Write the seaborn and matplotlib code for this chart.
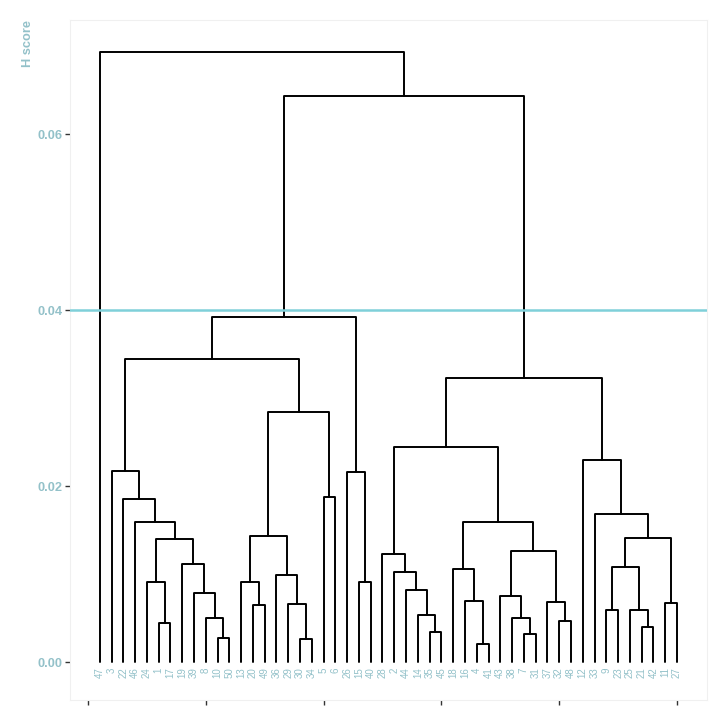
import numpy as np
import pandas as pd
import matplotlib
matplotlib.use("Agg")
import matplotlib.pyplot as plt
import seaborn as sns

# leaf order on the x axis (left to right)
leaf_order = [47, 3, 22, 46, 24, 1, 17, 19, 39, 8, 10, 50, 13, 20, 49, 36, 29, 30, 34,
              5, 6, 26, 15, 40, 28, 2, 44, 14, 35, 45, 18, 16, 4, 41, 43, 38, 7, 31,
              37, 32, 48, 12, 33, 9, 23, 25, 21, 42, 11, 27]

# merges: ints are leaf labels, "mN" is the N-th merge below
merge_left = [10, 8, 39, 19, 1, 24, "m5", 46, 22, 3,
              20, 13, 30, 29, 36, "m11", 5, "m15", "m9", 15, 26, "m18",
              35, 14, 44, 2, 28,
              4, 16, 18, 7, 38, 43, 32, 37, "m32", "m29", "m26",
              9, 21, 25, "m38", 11, "m41", 33, 12, "m37", "m21", 47]
merge_right = [50, "m0", "m1", "m2", 17, "m4", "m3", "m6", "m7", "m8",
               49, "m10", 34, "m12", "m13", "m14", 6, "m16", "m17", 40, "m19", "m20",
               45, "m22", "m23", "m24", "m25",
               41, "m27", "m28", 31, "m30", "m31", 48, "m33", "m34", "m35", "m36",
               23, 42, "m39", "m40", 27, "m42", "m43", "m44", "m45", "m46", "m47"]
merge_height = [0.00273, 0.00496, 0.00784, 0.01114, 0.00443, 0.00905, 0.01398, 0.01587, 0.01856, 0.02167,
                0.00652, 0.00905, 0.00261, 0.00663, 0.00989, 0.01436, 0.01879, 0.02841, 0.0344, 0.00905,
                0.02163, 0.03924,
                0.00345, 0.00530, 0.00818, 0.01027, 0.01223,
                0.00205, 0.00693, 0.01053, 0.00314, 0.00500, 0.00750, 0.00462, 0.00678, 0.01258,
                0.01591, 0.02447,
                0.00591, 0.00402, 0.00587, 0.01083, 0.00667, 0.01409, 0.01682, 0.02295, 0.03224,
                0.0644, 0.06932]

cut_height = 0.04
y_ticks = [0.00, 0.02, 0.04, 0.06]

label_col = "#93c1c9"
line_col = "#7fd0d9"

# node positions
pos = {lab: (i + 1, 0.0) for i, lab in enumerate(leaf_order)}
rows = []
for k, (a, b, h) in enumerate(zip(merge_left, merge_right, merge_height)):
    xa, ya = pos[a]
    xb, yb = pos[b]
    for px, py in [(xa, ya), (xa, h), (xb, h), (xb, yb)]:
        rows.append({"seg": k, "x": px, "y": py})
    pos[f"m{k}"] = ((xa + xb) / 2, h)
seg_df = pd.DataFrame(rows)

sns.set_theme(style="white")
plt.rcParams["font.family"] = ["Liberation Sans", "DejaVu Sans"]

fig = plt.figure(figsize=(7.27, 7.27), dpi=100)
ax = fig.add_axes([70 / 727, 27 / 727, 637 / 727, 680 / 727])

sns.lineplot(data=seg_df, x="x", y="y", units="seg", estimator=None, sort=False,
             color="black", linewidth=1.4, ax=ax)
ax.axhline(cut_height, color=line_col, linewidth=1.8, zorder=3)

for i, lab in enumerate(leaf_order):
    ax.text(i + 1, -0.0006, str(lab), rotation=90, ha="center", va="top",
            fontsize=7, color=label_col)

ax.set_xlim(-1.53, 52.55)
ax.set_ylim(-0.00432, 0.0730)
ax.set_xticks([0, 10, 20, 30, 40, 50])
ax.set_xticklabels([])
ax.set_yticks(y_ticks)
ax.set_yticklabels([f"{v:.2f}" for v in y_ticks], fontsize=9.2, fontweight="bold", color=label_col)
ax.tick_params(axis="both", which="both", length=3.5, width=1, color="#333333",
               left=True, bottom=True, pad=2)
ax.set_xlabel("")
ax.set_ylabel("H score", fontsize=9.2, fontweight="bold", color=label_col, loc="top")
ax.yaxis.set_label_coords(-0.0565, 1.0)

for s in ax.spines.values():
    s.set_color("#f0f0f0")
    s.set_linewidth(0.8)

fig.savefig("out.png", dpi=100)
